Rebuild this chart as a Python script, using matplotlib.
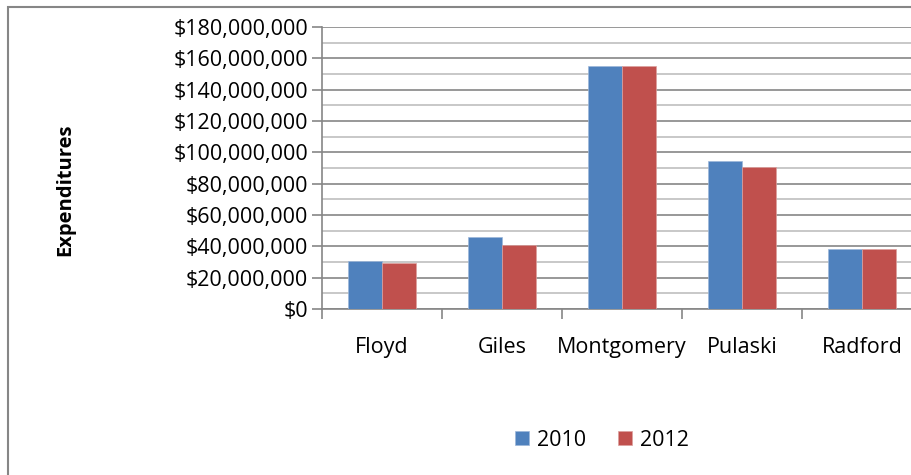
import numpy as np
import matplotlib.pyplot as plt
from matplotlib.patches import Rectangle
from matplotlib.ticker import MultipleLocator, FuncFormatter

# data
counties = ['Floyd', 'Giles', 'Montgomery', 'Pulaski', 'Radford']
exp_2010 = [30.6e6, 46.0e6, 155.0e6, 94.2e6, 38.3e6]
exp_2012 = [29.4e6, 40.6e6, 155.0e6, 90.6e6, 38.3e6]
years = ['2010', '2012']

plt.rcParams['font.family'] = ['Open Sans', 'DejaVu Sans']

W, H = 912, 475
fig = plt.figure(figsize=(W / 100, H / 100), dpi=100)
ax = fig.add_axes([322 / W, 1 - 309 / H, 600 / W, 282 / H])

x = np.arange(len(counties))
w = 0.285
ax.bar(x - w / 2, exp_2010, w, color='#4F81BD', edgecolor='#9DB7DA', linewidth=0.5, label=years[0], zorder=3)
ax.bar(x + w / 2, exp_2012, w, color='#C0504D', edgecolor='#DCA09E', linewidth=0.5, label=years[1], zorder=3)

ax.set_xlim(-0.5, len(counties) - 0.5)
ax.set_ylim(0, 180e6)
ax.yaxis.set_major_locator(MultipleLocator(20e6))
ax.yaxis.set_minor_locator(MultipleLocator(10e6))
ax.yaxis.set_major_formatter(FuncFormatter(lambda v, p: f"${v:,.0f}"))
ax.grid(axis='y', which='major', color='#868686', linewidth=1.2, zorder=0)
ax.grid(axis='y', which='minor', color='#BFBFBF', linewidth=1.2, zorder=0)

ax.set_xticks(x)
ax.set_xticklabels(counties)
ax.set_xticks(np.arange(len(counties) + 1) - 0.5, minor=True)
ax.tick_params(axis='x', which='major', length=0, pad=20, labelsize=15.5)
ax.tick_params(axis='x', which='minor', length=7, width=1.2, color='#868686', direction='out')
ax.tick_params(axis='y', which='major', length=7, width=1.2, color='#868686', pad=3, labelsize=15.5)
ax.tick_params(axis='y', which='minor', length=0)

for s in ['top', 'right']:
    ax.spines[s].set_visible(False)
for s in ['left', 'bottom']:
    ax.spines[s].set_color('#868686')
    ax.spines[s].set_linewidth(1.2)

fig.text(65 / W, 1 - 190 / H, 'Expenditures', rotation=90, ha='center', va='center',
         fontsize=14.5, fontweight='bold')

fig.legend(loc='center', bbox_to_anchor=(602 / W, 1 - 440 / H), ncol=2, frameon=False,
           fontsize=15.5, handlelength=0.65, handleheight=0.65, handletextpad=0.35,
           columnspacing=1.5)

# outer chart-area border (top and left visible)
fig.patches.append(Rectangle((8 / W, -0.1), 1.2, 1.1 - 7 / H, transform=fig.transFigure,
                             fill=False, edgecolor='#868686', linewidth=1.5))

fig.savefig('out.png', dpi=100)
